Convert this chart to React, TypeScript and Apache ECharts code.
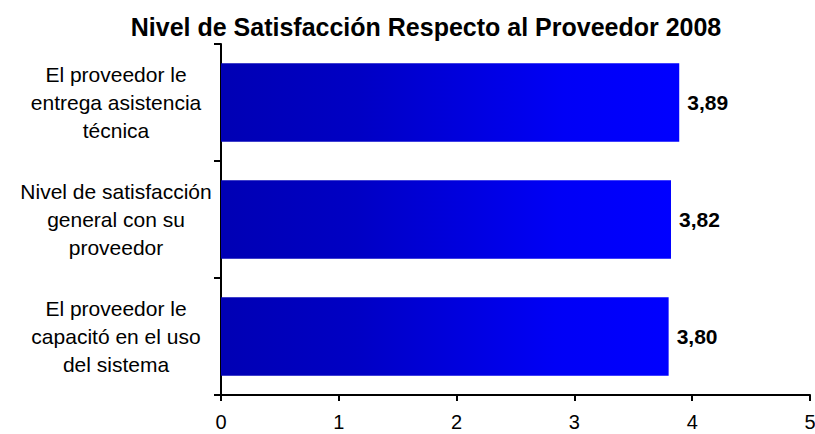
import React, { useEffect, useRef } from "react";
import * as echarts from "echarts";

const categories = [
  "El proveedor le\nentrega asistencia\ntécnica",
  "Nivel de satisfacción\ngeneral con su\nproveedor",
  "El proveedor le\ncapacitó en el uso\ndel sistema",
];
const values = [3.89, 3.82, 3.8];
const xTicks = [0, 1, 2, 3, 4, 5];
const titleText = "Nivel de Satisfacción Respecto al Proveedor 2008";

export default function App() {
  const ref = useRef<HTMLDivElement>(null);
  useEffect(() => {
    if (!ref.current) return;
    const chart = echarts.init(ref.current, null, { renderer: "svg" });
    const font = "'Liberation Sans', Arial, sans-serif";
    chart.setOption({
      animation: false,
      title: {
        text: titleText,
        left: 421,
        top: 9,
        textAlign: "center",
        textStyle: { fontFamily: font, fontSize: 25, fontWeight: "bold", color: "#000" },
      },
      grid: {
        left: 221,
        right: 5,
        top: 44,
        bottom: 39,
        containLabel: false,
        outerBoundsMode: "none",
      },
      xAxis: {
        type: "value",
        min: xTicks[0],
        max: xTicks[xTicks.length - 1],
        interval: 1,
        splitLine: { show: false },
        axisLine: { show: true, lineStyle: { color: "#000", width: 2 } },
        axisTick: { show: true, length: 6, lineStyle: { color: "#000", width: 2 } },
        axisLabel: { color: "#000", fontFamily: font, fontSize: 20, margin: 17 },
      },
      yAxis: {
        type: "category",
        inverse: true,
        data: categories,
        axisLine: { show: true, lineStyle: { color: "#000", width: 2 } },
        axisTick: { show: true, length: 7, lineStyle: { color: "#000", width: 2 } },
        axisLabel: {
          color: "#000",
          fontFamily: font,
          fontSize: 21,
          lineHeight: 28,
          align: "center",
          margin: 105,
        },
      },
      series: [
        {
          type: "bar",
          data: values,
          barCategoryGap: "33%",
          itemStyle: {
            color: new echarts.graphic.LinearGradient(0, 0, 1, 0, [
              { offset: 0, color: "#0000B4" },
              { offset: 0.3, color: "#0000C4" },
              { offset: 0.75, color: "#0000F6" },
              { offset: 1, color: "#0000FF" },
            ]),
          },
          label: {
            show: true,
            position: "right",
            distance: 8,
            color: "#000",
            fontFamily: font,
            fontSize: 21,
            fontWeight: "bold",
            formatter: (p: any) => Number(p.value).toFixed(2).replace(".", ","),
          },
        },
      ],
    });
    return () => chart.dispose();
  }, []);
  return (
    <div
      ref={ref}
      style={{ position: "fixed", left: 0, top: 0, width: 815, height: 434, background: "#fff" }}
    />
  );
}
